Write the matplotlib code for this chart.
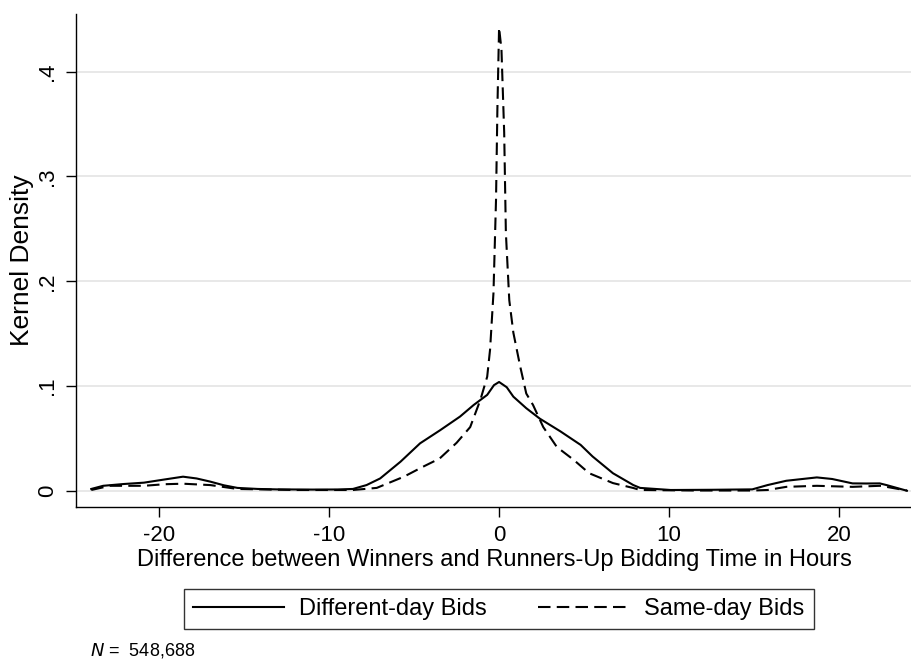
import matplotlib
matplotlib.use("Agg")
import matplotlib.pyplot as plt

plt.rcParams['font.family'] = ['Liberation Sans', 'DejaVu Sans']

# Kernel density of bid-time differences (hours)
diff_hours = [-24.0, -23.3, -22.1, -20.9, -19.7, -18.6, -17.8, -17.0, -16.2, -15.4,
              -14.2, -13.1, -11.0, -9.5, -8.6, -7.8, -7.0, -5.8, -4.65, -3.47,
              -2.3, -1.5, -0.7, -0.3, 0.0, 0.45, 0.84, 1.6, 2.4, 3.6,
              4.8, 5.5, 6.7, 7.9, 8.3, 10.1, 12.5, 14.9, 15.8, 16.9,
              18.7, 19.6, 20.8, 21.6, 22.4, 22.8, 24.0]
diff_density = [0.002, 0.005, 0.0067, 0.008, 0.011, 0.0137, 0.012, 0.009, 0.0055, 0.003,
                0.002, 0.0016, 0.0014, 0.0015, 0.002, 0.0057, 0.012, 0.028, 0.0455, 0.058,
                0.071, 0.082, 0.0917, 0.101, 0.104, 0.099, 0.090, 0.079, 0.069, 0.057,
                0.044, 0.033, 0.017, 0.0057, 0.003, 0.001, 0.0012, 0.0016, 0.0057, 0.0098,
                0.013, 0.0115, 0.0073, 0.0072, 0.0073, 0.0057, 0.0003]

same_hours = [-24.0, -22.9, -20.9, -19.7, -18.6, -17.0, -15.4, -12.0, -8.6, -7.2,
              -5.6, -4.5, -3.5, -2.5, -1.7, -1.1, -0.7, -0.53, -0.33, -0.18,
              -0.1, 0.0, 0.14, 0.3, 0.4, 0.6, 0.84, 1.24, 1.6, 2.0,
              2.6, 3.4, 4.4, 5.3, 6.7, 7.9, 8.3, 11.5, 14.9, 15.8,
              16.9, 18.7, 20.8, 22.4, 22.8, 24.0]
same_density = [0.001, 0.005, 0.005, 0.0065, 0.007, 0.0057, 0.002, 0.001, 0.001, 0.003,
                0.0137, 0.023, 0.031, 0.046, 0.061, 0.087, 0.109, 0.135, 0.189, 0.278,
                0.364, 0.442, 0.421, 0.342, 0.246, 0.182, 0.151, 0.119, 0.093, 0.082,
                0.061, 0.042, 0.0296, 0.017, 0.0076, 0.0029, 0.001, 0.0005, 0.0005, 0.001,
                0.004, 0.005, 0.004, 0.005, 0.004, 0.0005]

x_ticks = [-20, -10, 0, 10, 20]
y_ticks = [0, 0.1, 0.2, 0.3, 0.4]
y_tick_labels = ["0", ".1", ".2", ".3", ".4"]
n_obs = "548,688"

fig = plt.figure(figsize=(9.12, 6.62), dpi=100)
ax = fig.add_axes([0.0833, 0.234, 0.9167, 0.745])

# grid first so the curves sit on top
for yv in y_ticks:
    ax.axhline(yv, color='#e6e6e6', lw=1.3, zorder=0)

ax.plot(diff_hours, diff_density, color='black', lw=1.5, label='Different-day Bids')
ax.plot(same_hours, same_density, color='black', lw=1.5, dashes=(6, 3),
        label='Same-day Bids')

ax.set_xlim(-24.9, 24.3)
ax.set_ylim(-0.0153, 0.455)
ax.set_xticks(x_ticks)
ax.set_xticklabels([str(t) for t in x_ticks])
ax.set_yticks(y_ticks)
ax.set_yticklabels(y_tick_labels, rotation=90, va='center')

ax.spines['top'].set_visible(False)
ax.spines['right'].set_visible(False)
for s in ('left', 'bottom'):
    ax.spines[s].set_linewidth(1.0)

ax.tick_params(direction='out', length=7, width=1.0, labelsize=16, pad=6)
ax.set_xlabel('Difference between Winners and Runners-Up Bidding Time in Hours',
              fontsize=17, labelpad=2)
ax.set_ylabel('Kernel Density', fontsize=19, labelpad=2)

leg = fig.legend(loc='center', bbox_to_anchor=(499 / 912, 1 - 609 / 662), ncol=2,
                 fontsize=17, frameon=True, fancybox=False, edgecolor='black',
                 handlelength=3.85, handletextpad=0.64, columnspacing=2.16,
                 borderpad=0.4, borderaxespad=0)
leg.get_frame().set_linewidth(1.0)

fig.text(90 / 912, 1 - 650 / 662, r'$N$ =  ' + n_obs, fontsize=13,
         va='center', ha='left')

fig.savefig('out.png', dpi=100)
